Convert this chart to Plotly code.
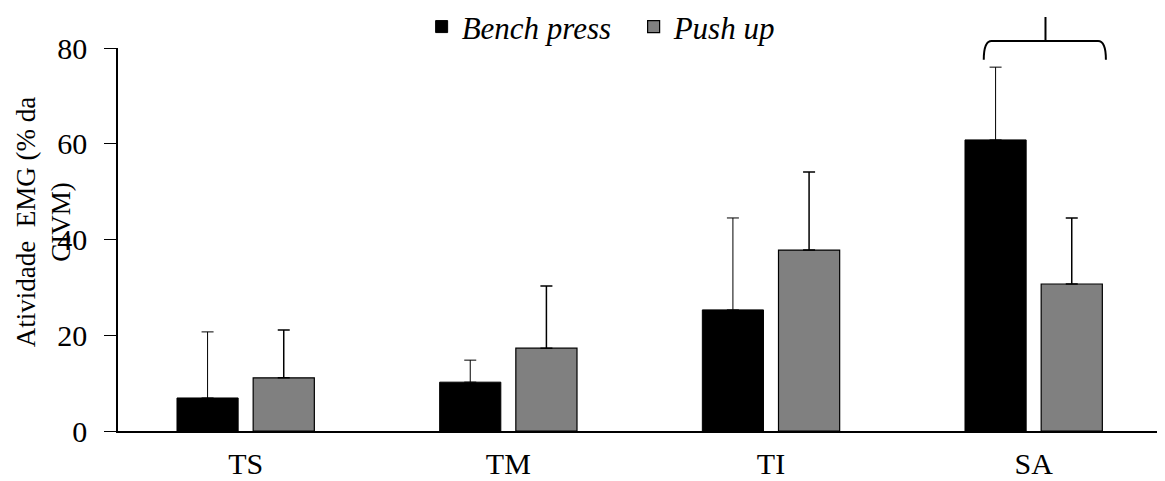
import plotly.graph_objects as go

categories = ["TS", "TM", "TI", "SA"]
bench_press = [6.9, 10.2, 25.3, 60.8]
bench_press_sd = [13.8, 4.6, 19.2, 15.2]
push_up = [11.1, 17.3, 37.8, 30.7]
push_up_sd = [10.0, 13.0, 16.3, 13.8]
y_ticks = [0, 20, 40, 60, 80]

xs = list(range(len(categories)))
FONT = "Liberation Serif"

fig = go.Figure()
fig.add_trace(go.Bar(
    x=xs, y=bench_press, name="Bench press",
    marker=dict(color="#000000", line=dict(color="#000000", width=1)),
    error_y=dict(type="data", array=bench_press_sd, arrayminus=[0] * 4, symmetric=False,
                 color="#000000", thickness=1, width=6),
))
fig.add_trace(go.Bar(
    x=xs, y=push_up, name="Push up",
    marker=dict(color="#808080", line=dict(color="#000000", width=1.2)),
    error_y=dict(type="data", array=push_up_sd, arrayminus=[0] * 4, symmetric=False,
                 color="#000000", thickness=1.5, width=6),
))

# bracket over SA
sa = categories.index("SA")
xl, xr, xc = sa - 0.19, sa + 0.275, sa + 0.045
ylow, ybar, ytop = 0.969, 1.018, 1.081
path = (f"M {xl},{ylow} Q {xl},{ybar} {xl+0.03},{ybar} L {xr-0.03},{ybar} "
        f"Q {xr},{ybar} {xr},{ylow} M {xc},{ybar} L {xc},{ytop}")
fig.add_shape(type="path", path=path, xref="x", yref="paper",
              line=dict(color="#000000", width=2))

fig.add_annotation(
    text="Atividade  EMG (% da<br>CIVM)", xref="paper", yref="y",
    x=-0.0716, y=43.6, xanchor="center", yanchor="middle",
    textangle=-90, showarrow=False, align="center",
    font=dict(family=FONT, size=27, color="#000000"),
)

fig.update_layout(
    width=1157, height=473,
    margin=dict(l=110, r=0, t=40, b=50, autoexpand=False),
    paper_bgcolor="white", plot_bgcolor="white",
    barmode="group", bargap=0.42, bargroupgap=0.197,
    showlegend=True,
    legend=dict(orientation="h", x=0.29, y=1.055, xanchor="left", yanchor="middle",
                font=dict(family=FONT, size=31, color="#000000", style="italic"),
                bgcolor="rgba(0,0,0,0)", itemwidth=30,
                entrywidth=167, entrywidthmode="pixels"),
    font=dict(family=FONT, color="#000000"),
    xaxis=dict(range=[-0.486, 3.5], tickvals=xs, ticktext=categories,
               showline=True, linecolor="#000000", linewidth=1.5,
               ticks="", showgrid=False, zeroline=False, ticklabelstandoff=5,
               tickfont=dict(family=FONT, size=30, color="#000000")),
    yaxis=dict(range=[0, 80], tickvals=y_ticks, showline=True, linecolor="#000000",
               linewidth=1.5, ticks="outside", ticklen=12, tickcolor="#000000",
               showgrid=False, zeroline=False, ticklabelstandoff=11,
               tickfont=dict(family=FONT, size=30, color="#000000")),
)

fig.write_html("out.html")
